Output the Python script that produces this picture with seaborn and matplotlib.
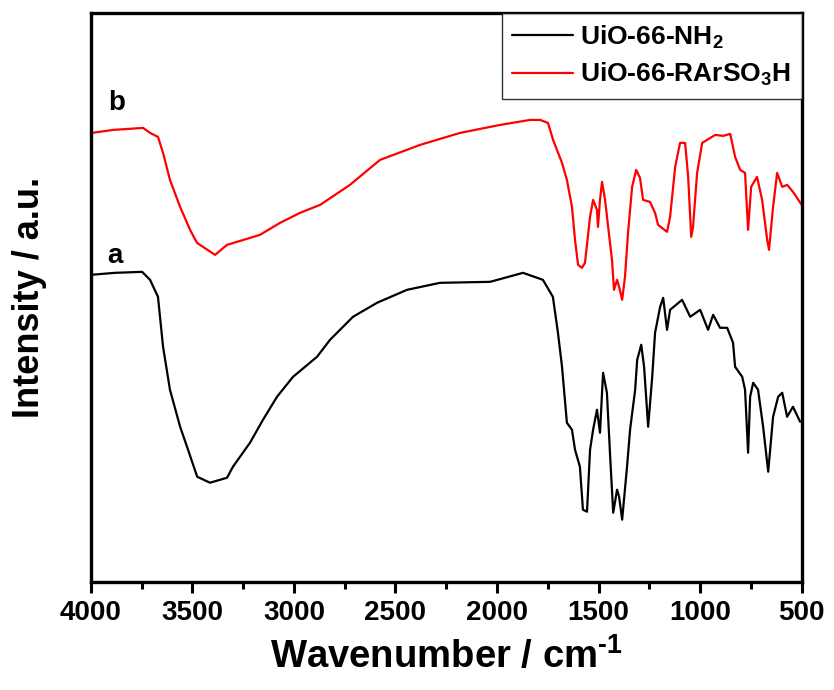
import matplotlib
matplotlib.use("Agg")
import matplotlib.pyplot as plt
from matplotlib.ticker import MultipleLocator
import numpy as np
import pandas as pd
import seaborn as sns

# FTIR spectra (wavenumber in cm^-1, intensity in arbitrary units, offset for display)
wn_nh2 = [4000, 3880, 3747, 3708, 3669, 3644, 3610, 3560, 3521, 3476, 3413, 3329,
          3300, 3216, 3152, 3083, 3004, 2886, 2822, 2709, 2591, 2443, 2281, 2034,
          1872, 1774, 1725, 1700, 1680, 1656, 1631, 1616, 1592, 1577, 1557, 1542,
          1527, 1508, 1493, 1478, 1459, 1443, 1428, 1409, 1399, 1384, 1360, 1345,
          1320, 1310, 1290, 1276, 1256, 1236, 1222, 1197, 1182, 1163, 1148, 1089,
          1049, 1000, 961, 936, 902, 867, 838, 828, 793, 779, 764, 754, 739, 715,
          690, 665, 641, 616, 596, 572, 543, 508]
int_nh2 = [307, 309, 310, 302, 285, 235, 192, 155, 132, 105, 99, 104,
           115, 139, 162, 185, 205, 225, 242, 265, 279, 292, 299, 300,
           309, 302, 285, 249, 215, 159, 152, 132, 115, 72, 70, 132,
           152, 172, 149, 209, 189, 125, 69, 92, 85, 62, 115, 152,
           192, 222, 237, 215, 155, 205, 249, 275, 284, 252, 272, 282,
           265, 272, 252, 267, 254, 254, 239, 215, 205, 192, 129, 185, 199, 192,
           155, 110, 165, 185, 189, 165, 175, 160]

wn_so3h = [4000, 3995, 3890, 3742, 3708, 3669, 3644, 3610, 3560, 3511, 3477, 3388,
           3329, 3280, 3167, 3068, 2970, 2871, 2724, 2576, 2379, 2182, 1985, 1837,
           1788, 1749, 1724, 1680, 1656, 1631, 1616, 1601, 1582, 1567, 1542, 1527,
           1508, 1503, 1493, 1483, 1468, 1453, 1434, 1424, 1409, 1399, 1384, 1370,
           1355, 1335, 1315, 1296, 1281, 1247, 1222, 1207, 1163, 1148, 1123, 1099,
           1074, 1059, 1044, 1035, 1015, 990, 966, 926, 887, 852, 828, 803, 779,
           764, 749, 720, 695, 670, 661, 641, 621, 596, 572, 543, 500]
int_so3h = [257, 449, 452, 454, 449, 445, 429, 402, 375, 352, 339, 327,
            337, 340, 347, 359, 369, 377, 397, 422, 437, 449, 457, 462,
            462, 459, 442, 419, 402, 375, 342, 317, 314, 319, 365, 382,
            372, 355, 382, 400, 382, 355, 322, 292, 302, 295, 282, 305,
            349, 395, 412, 404, 382, 380, 369, 357, 350, 365, 415, 439,
            439, 405, 345, 355, 409, 439, 442, 447, 446, 448, 425, 412, 409,
            352, 395, 405, 382, 342, 332, 375, 409, 395, 397, 390, 377]

series_names = ["UiO-66-NH$_2$", "UiO-66-RArSO$_3$H"]
series_colors = ["#000000", "#ff0000"]
curve_tags = ["a", "b"]

sns.set_style("white")
plt.rcParams["font.family"] = ["Liberation Sans", "DejaVu Sans"]
plt.rcParams["font.weight"] = "bold"
plt.rcParams["text.color"] = "black"
plt.rcParams["axes.labelcolor"] = "black"
plt.rcParams["xtick.color"] = "black"
plt.rcParams["mathtext.fontset"] = "custom"
plt.rcParams["mathtext.rm"] = "Liberation Sans:bold"
plt.rcParams["mathtext.bf"] = "Liberation Sans:bold"
plt.rcParams["mathtext.it"] = "Liberation Sans:bold"
plt.rcParams["mathtext.default"] = "bf"

df = pd.concat([
    pd.DataFrame({"wavenumber": wn_nh2, "intensity": int_nh2, "sample": series_names[0]}),
    pd.DataFrame({"wavenumber": wn_so3h, "intensity": int_so3h, "sample": series_names[1]}),
])

fig = plt.figure(figsize=(8.34, 6.9), dpi=100)
ax = fig.add_axes([0.1088, 0.157, 0.8525, 0.8242])

sns.lineplot(data=df, x="wavenumber", y="intensity", hue="sample",
             palette=dict(zip(series_names, series_colors)),
             estimator=None, sort=False, linewidth=1.6, ax=ax)

ax.set_xlim(4000, 500)
ax.set_ylim(0, 569)
ax.xaxis.set_major_locator(MultipleLocator(500))
ax.xaxis.set_minor_locator(MultipleLocator(250))
ax.set_yticks([])
ax.tick_params(axis="x", which="major", direction="out", length=8, width=2.2,
               labelsize=20, pad=5, bottom=True)
ax.tick_params(axis="x", which="minor", direction="out", length=5, width=2.2,
               bottom=True)
for lab in ax.get_xticklabels():
    lab.set_fontweight("bold")
for sp in ax.spines.values():
    sp.set_linewidth(2.4)
    sp.set_color("black")

ax.set_xlabel(r"Wavenumber / cm$^{\text{-}1}$", fontsize=27.5, fontweight="bold", labelpad=8)
ax.set_ylabel("Intensity / a.u.", fontsize=26, fontweight="bold")
ax.yaxis.set_label_coords(-0.062, 0.5)

ax.text(3880, 326, curve_tags[0], fontsize=20, fontweight="bold", ha="center", va="center")
ax.text(3871, 479, curve_tags[1], fontsize=20, fontweight="bold", ha="center", va="center")

leg = ax.legend(loc="upper right", borderaxespad=0, fancybox=False, frameon=True,
                fontsize=19, handlelength=2.3, handletextpad=0.28,
                borderpad=0.4, labelspacing=0.4, title=None)
leg.get_frame().set_edgecolor("black")
leg.get_frame().set_linewidth(1.0)
for line in leg.get_lines():
    line.set_linewidth(1.6)
for t in leg.get_texts():
    t.set_fontweight("bold")

fig.savefig("out.png", dpi=100)
